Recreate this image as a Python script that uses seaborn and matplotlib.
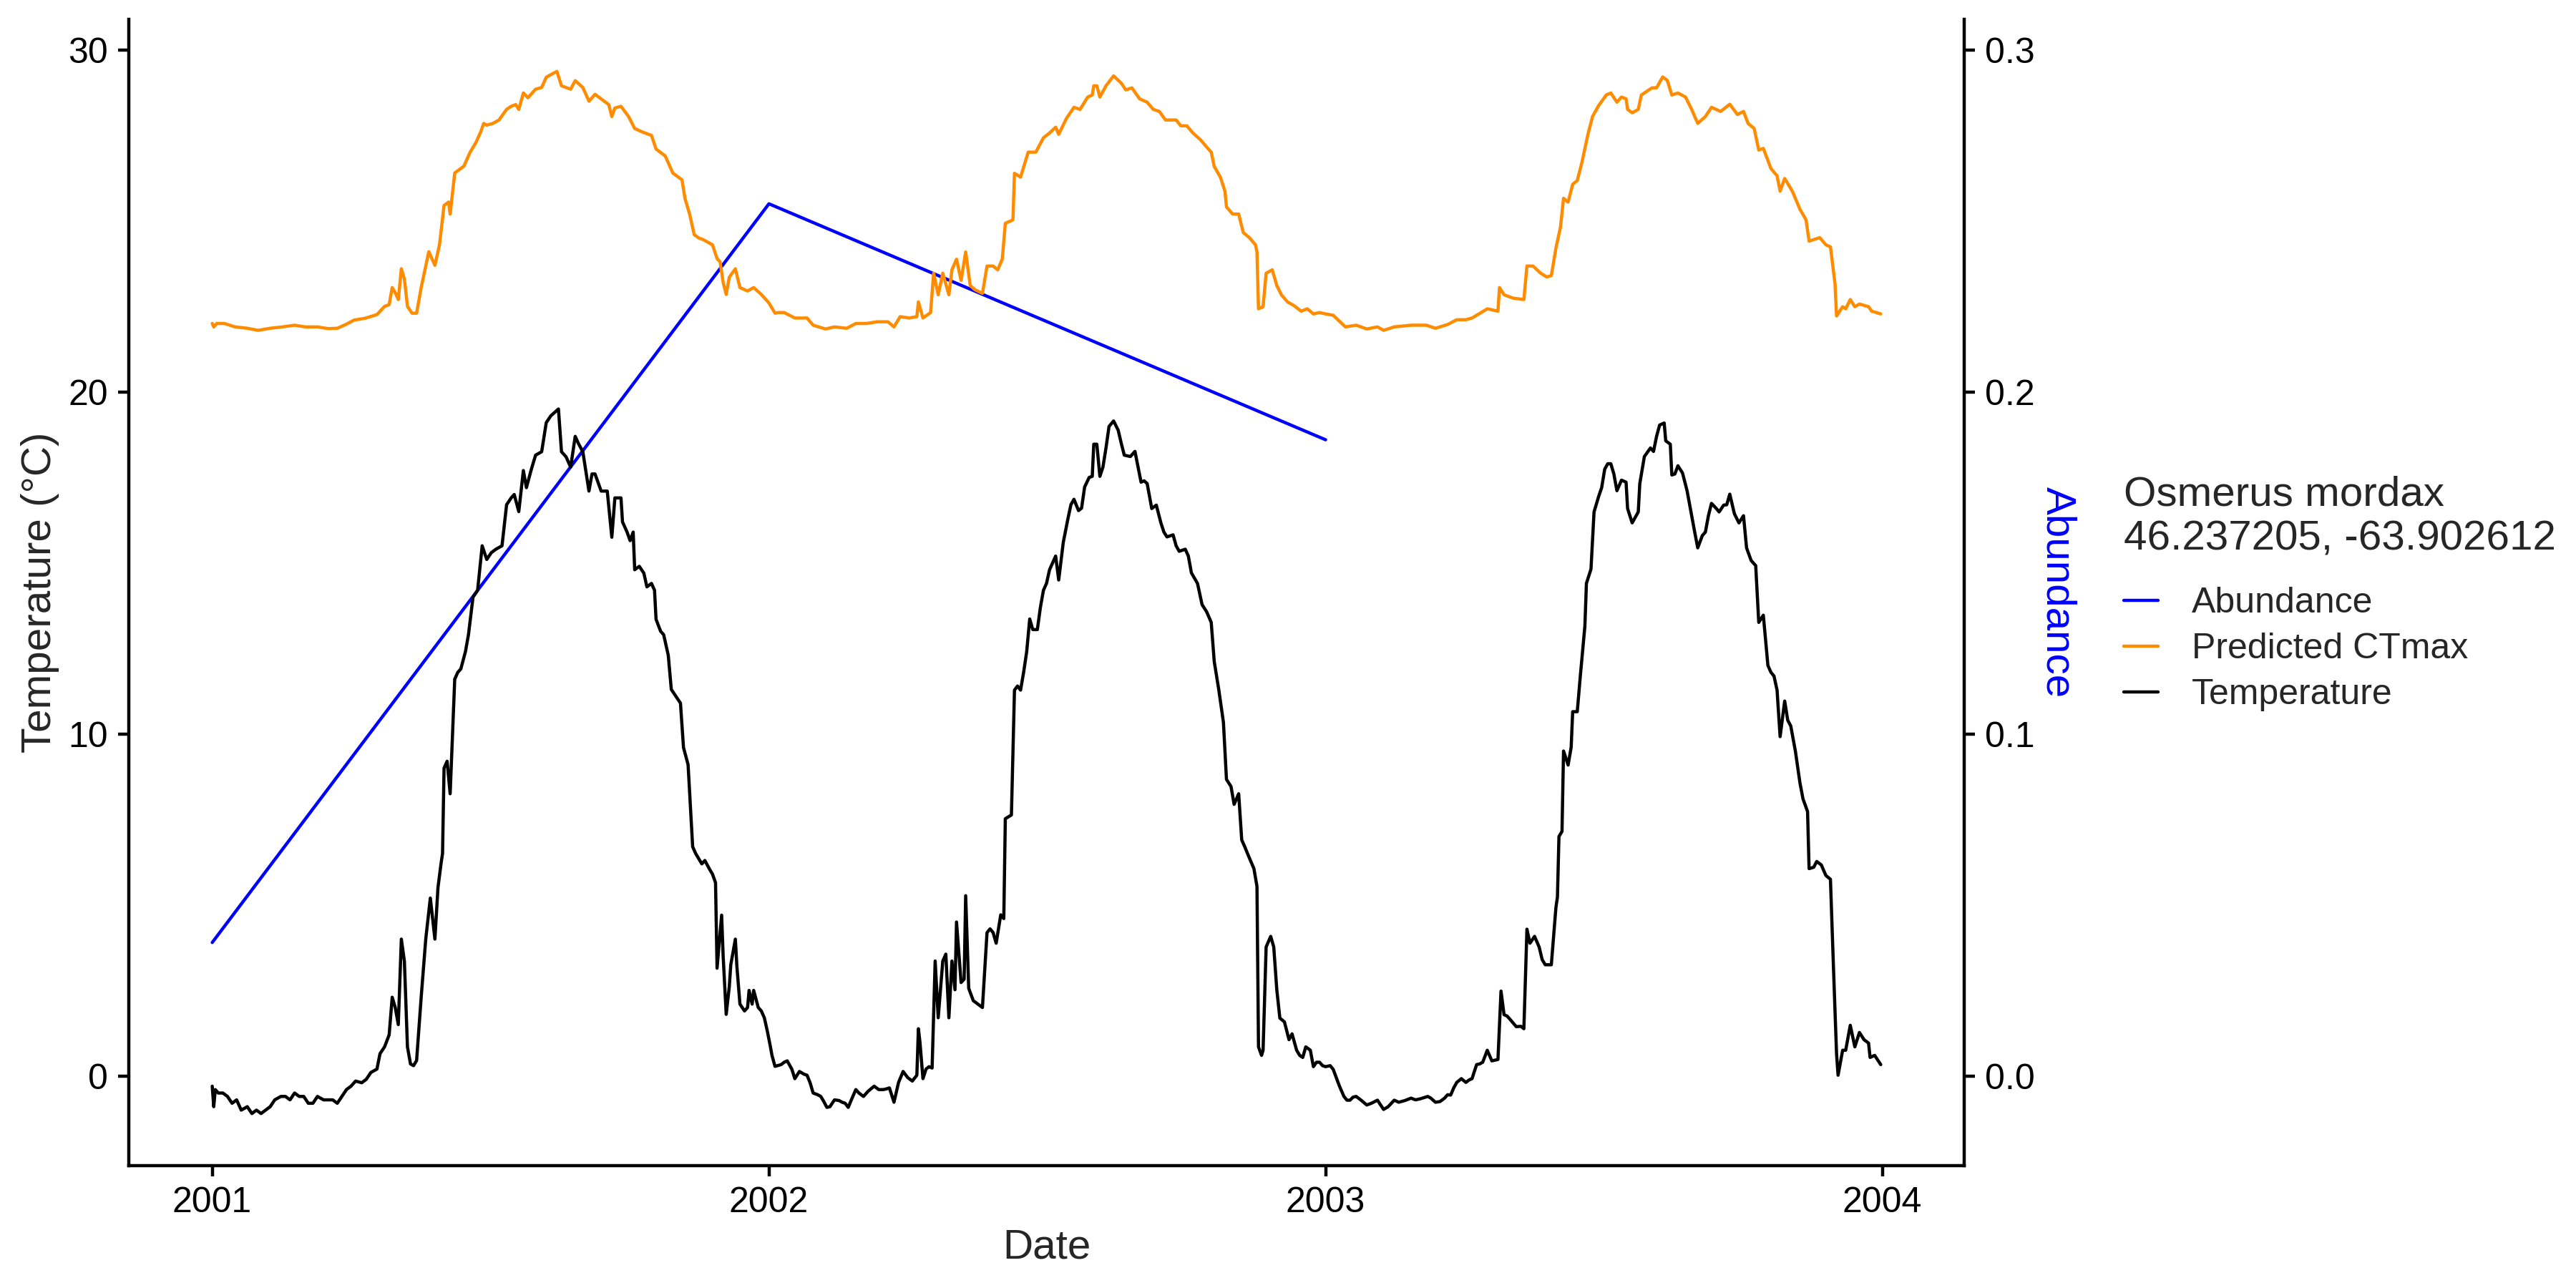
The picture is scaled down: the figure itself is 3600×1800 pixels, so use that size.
import matplotlib.pyplot as plt
import matplotlib.dates as mdates
from matplotlib.lines import Line2D
from matplotlib.ticker import FormatStrFormatter
import pandas as pd
import seaborn as sns

start = pd.Timestamp("2001-01-01")

# daily series (days since 2001-01-01)
temp_days = [
    0, 1, 2, 4, 7, 10, 13, 16, 19, 23, 26, 29, 32, 35, 38, 41, 45, 48, 51, 54,
    57, 60, 63, 66, 69, 73, 76, 79, 82, 85, 88, 91, 94, 98, 101, 104, 108, 110,
    113, 116, 118, 120, 122, 124, 126, 128, 130, 132, 134, 137, 140, 143, 146,
    148, 150, 151, 152, 154, 156, 159, 161, 163, 166, 168, 171, 174, 177, 180,
    183, 186, 190, 193, 196, 198, 201, 204, 206, 209, 212, 216, 219, 222, 227,
    229, 232, 235, 238, 240, 243, 247, 249, 251, 255, 259, 262, 264, 268, 269,
    272, 274, 276, 277, 280, 283, 285, 288, 290, 291, 294, 296, 299, 301, 304,
    307, 309, 312, 315, 317, 321, 323, 326, 328, 330, 331, 334, 335, 337, 339,
    340, 343, 344, 346, 349, 351, 352, 354, 355, 358, 360, 362, 364, 366, 367,
    369, 373, 375, 377, 380, 382, 385, 388, 390, 392, 394, 397, 399, 401, 403,
    405, 408, 411, 413, 415, 417, 420, 422, 424, 427, 430, 434, 437, 440, 442,
    444, 447, 450, 453, 456, 459, 462, 463, 464, 466, 468, 470, 472, 474, 476,
    479, 481, 483, 485, 487, 488, 491, 493, 494, 496, 499, 502, 505, 508, 510,
    512, 514, 517, 519, 520, 524, 526, 528, 530, 532, 534, 536, 538, 541, 543,
    545, 547, 549, 551, 553, 555, 558, 561, 563, 565, 568, 570, 572, 575, 577,
    578, 580, 582, 584, 586, 588, 591, 594, 596, 598, 602, 605, 609, 611, 613,
    616, 619, 622, 624, 626, 630, 632, 634, 638, 640, 642, 646, 649, 652, 655,
    657, 660, 663, 665, 668, 670, 673, 675, 677, 679, 683, 685, 686, 688, 689,
    691, 694, 696, 698, 700, 703, 706, 708, 711, 713, 715, 717, 720, 722, 724,
    726, 728, 730, 733, 735, 737, 739, 742, 744, 746, 748, 750, 753, 757, 760,
    764, 768, 771, 775, 778, 782, 786, 789, 792, 797, 799, 802, 805, 808, 810,
    812, 814, 816, 819, 822, 824, 826, 829, 831, 833, 836, 839, 843, 845, 847,
    849, 851, 855, 858, 860, 862, 864, 867, 870, 872, 874, 878, 881, 882, 883,
    885, 886, 889, 891, 892, 895, 897, 900, 901, 904, 906, 909, 911, 913, 915,
    917, 919, 921, 924, 927, 928, 931, 935, 936, 939, 943, 945, 947, 949, 952,
    953, 956, 957, 959, 961, 964, 967, 970, 972, 974, 977, 979, 981, 983, 986,
    988, 991, 993, 995, 998, 1001, 1004, 1006, 1009, 1012, 1014, 1017, 1020,
    1022, 1024, 1026, 1028, 1031, 1033, 1035, 1038, 1041, 1043, 1046, 1047,
    1050, 1052, 1055, 1058, 1061, 1063, 1065, 1066, 1069, 1071, 1074, 1077,
    1080, 1083, 1086, 1087, 1090, 1094,
]
temp_vals = [
    -0.3, -0.9, -0.4, -0.5, -0.5, -0.6, -0.8, -0.7, -1.0, -0.9, -1.1, -1.0,
    -1.1, -1.0, -0.9, -0.7, -0.6, -0.6, -0.7, -0.5, -0.6, -0.6, -0.8, -0.8,
    -0.6, -0.7, -0.7, -0.7, -0.8, -0.6, -0.4, -0.3, -0.15, -0.2, -0.1, 0.1,
    0.2, 0.65, 0.85, 1.2, 2.3, 2.0, 1.5, 4.0, 3.35, 0.85, 0.35, 0.3, 0.45, 2.3,
    4.0, 5.2, 4.0, 5.5, 6.2, 6.5, 9.0, 9.2, 8.25, 11.6, 11.8, 11.9, 12.4, 12.9,
    14.0, 14.2, 15.5, 15.1, 15.3, 15.4, 15.5, 16.7, 16.9, 17.0, 16.5, 17.7,
    17.2, 17.7, 18.15, 18.25, 19.1, 19.3, 19.5, 18.25, 18.1, 17.8, 18.7, 18.5,
    18.25, 17.1, 17.6, 17.6, 17.1, 17.1, 15.75, 16.9, 16.9, 16.2, 15.9, 15.65,
    15.9, 14.8, 14.9, 14.7, 14.3, 14.4, 14.2, 13.35, 13.0, 12.9, 12.3, 11.3,
    11.1, 10.9, 9.6, 9.1, 6.7, 6.5, 6.2, 6.3, 6.05, 5.9, 5.65, 3.15, 4.7, 3.5,
    1.8, 2.6, 3.25, 4.0, 3.2, 2.1, 1.9, 2.0, 2.5, 2.1, 2.5, 2.0, 1.9, 1.7, 1.3,
    0.85, 0.6, 0.28, 0.33, 0.4, 0.44, 0.2, -0.08, 0.13, 0.05, 0.02, -0.2, -0.5,
    -0.55, -0.6, -0.75, -0.92, -0.9, -0.7, -0.72, -0.77, -0.8, -0.92, -0.6,
    -0.4, -0.5, -0.6, -0.45, -0.3, -0.4, -0.4, -0.38, -0.35, -0.77, -0.19,
    0.13, -0.05, -0.15, 0.02, 1.38, 1.0, -0.08, 0.2, 0.27, 0.23, 3.36, 1.7,
    3.36, 3.56, 1.7, 3.36, 2.52, 4.5, 2.73, 2.83, 5.27, 2.56, 2.2, 2.1, 2.0,
    4.19, 4.3, 4.19, 3.88, 4.71, 4.6, 7.52, 7.63, 11.28, 11.4, 11.28, 11.8,
    12.4, 13.36, 13.05, 13.05, 13.7, 14.2, 14.4, 14.8, 15.0, 15.2, 14.5, 15.6,
    16.28, 16.7, 16.86, 16.53, 16.6, 17.22, 17.5, 17.53, 18.47, 18.47, 17.53,
    17.8, 18.36, 18.99, 19.15, 18.88, 18.5, 18.15, 18.11, 18.26, 17.36, 17.4,
    17.32, 16.59, 16.69, 16.17, 15.9, 15.76, 15.82, 15.5, 15.34, 15.4, 15.2,
    14.71, 14.4, 13.78, 13.57, 13.26, 12.11, 11.28, 10.34, 8.67, 8.46, 7.94,
    8.25, 6.9, 6.7, 6.48, 6.06, 5.54, 0.85, 0.6, 0.75, 3.77, 4.08, 3.77, 2.52,
    1.69, 1.58, 1.06, 1.23, 0.75, 0.6, 0.54, 0.85, 0.75, 0.27, 0.4, 0.4, 0.3,
    0.27, 0.3, 0.19, -0.05, -0.29, -0.6, -0.71, -0.71, -0.62, -0.6, -0.7,
    -0.85, -0.8, -0.71, -0.98, -0.9, -0.71, -0.77, -0.72, -0.65, -0.7, -0.67,
    -0.6, -0.65, -0.77, -0.75, -0.65, -0.55, -0.56, -0.35, -0.19, -0.08,
    -0.19, -0.12, -0.08, 0.33, 0.35, 0.4, 0.75, 0.44, 0.48, 2.48, 1.79, 1.75,
    1.65, 1.44, 1.45, 1.38, 4.29, 3.88, 4.08, 3.77, 3.4, 3.25, 3.25, 4.92,
    5.23, 7.0, 7.15, 9.5, 9.09, 9.61, 10.65, 10.65, 11.69, 13.15, 14.4, 14.82,
    16.49, 16.94, 17.2, 17.74, 17.9, 17.9, 17.6, 17.11, 17.42, 17.36, 16.59,
    16.17, 16.49, 17.32, 18.11, 18.36, 18.26, 18.7, 19.03, 19.09, 18.57,
    18.47, 17.57, 17.6, 17.84, 17.63, 17.11, 16.38, 15.9, 15.44, 15.8, 15.9,
    16.38, 16.74, 16.6, 16.49, 16.69, 16.7, 17.01, 16.44, 16.17, 16.38, 15.44,
    15.07, 14.92, 13.26, 13.47, 12.0, 11.8, 11.69, 11.28, 9.92, 10.96, 10.4,
    10.23, 9.5, 8.57, 8.1, 7.73, 6.06, 6.1, 6.27, 6.17, 5.86, 5.75, 3.15, 0.65,
    0.02, 0.75, 0.75, 1.48, 0.85, 1.27, 1.06, 0.96, 0.54, 0.6, 0.33,
]

ctmax_days = [
    0, 1, 3, 8, 15, 23, 30, 38, 46, 54, 61, 69, 76, 82, 88, 93, 100, 108, 113,
    116, 118, 120, 122, 124, 126, 128, 131, 134, 137, 142, 146, 149, 152, 155,
    156, 159, 162, 165, 169, 173, 176, 178, 180, 184, 188, 193, 196, 199, 201,
    204, 207, 212, 216, 219, 223, 226, 229, 232, 235, 238, 243, 247, 251, 254,
    257, 260, 262, 264, 268, 273, 277, 282, 288, 291, 294, 297, 302, 305, 308,
    310, 313, 316, 319, 322, 328, 331, 333, 335, 337, 339, 343, 346, 351, 355,
    360, 365, 369, 371, 375, 382, 390, 394, 402, 408, 416, 422, 429, 436, 443,
    447, 451, 457, 462, 463, 466, 471, 473, 476, 479, 483, 485, 488, 491, 494,
    497, 500, 505, 508, 512, 515, 518, 520, 525, 526, 530, 535, 540, 545, 549,
    553, 555, 560, 565, 569, 574, 577, 578, 580, 582, 586, 591, 596, 599, 603,
    608, 613, 617, 621, 625, 632, 635, 639, 643, 648, 652, 655, 657, 661, 664,
    665, 669, 673, 676, 680, 684, 685, 686, 689, 691, 695, 698, 701, 705, 709,
    714, 718, 722, 726, 730, 735, 743, 750, 757, 764, 768, 775, 786, 796, 802,
    810, 816, 822, 826, 832, 836, 843, 844, 847, 853, 860, 862, 866, 871, 875,
    878, 881, 884, 886, 889, 892, 895, 898, 902, 905, 909, 914, 917, 921, 924,
    927, 928, 931, 935, 937, 944, 947, 951, 954, 957, 961, 966, 970, 974, 979,
    983, 989, 995, 1000, 1004, 1007, 1011, 1014, 1017, 1022, 1026, 1028, 1031,
    1036, 1041, 1045, 1047, 1054, 1058, 1061, 1064, 1065, 1069, 1071, 1074,
    1077, 1080, 1086, 1088, 1094,
]
ctmax_vals = [
    22.0, 21.9, 22.0, 22.0, 21.9, 21.86, 21.8, 21.86, 21.9, 21.95, 21.9, 21.9,
    21.85, 21.86, 21.98, 22.1, 22.15, 22.26, 22.5, 22.55, 23.05, 22.9, 22.7,
    23.6, 23.3, 22.5, 22.3, 22.3, 23.05, 24.1, 23.7, 24.3, 25.45, 25.55, 25.2,
    26.4, 26.5, 26.6, 27.0, 27.3, 27.6, 27.85, 27.8, 27.85, 27.95, 28.26,
    28.35, 28.4, 28.26, 28.74, 28.6, 28.85, 28.9, 29.2, 29.3, 29.37, 28.95,
    28.9, 28.85, 29.1, 28.9, 28.5, 28.7, 28.6, 28.5, 28.4, 28.05, 28.3, 28.35,
    28.05, 27.7, 27.6, 27.5, 27.1, 27.0, 26.9, 26.4, 26.3, 26.2, 25.65, 25.2,
    24.6, 24.5, 24.45, 24.3, 23.9, 23.8, 23.2, 22.85, 23.35, 23.6, 23.05,
    22.95, 23.05, 22.85, 22.6, 22.3, 22.32, 22.32, 22.16, 22.16, 21.95, 21.84,
    21.9, 21.86, 22.0, 22.0, 22.05, 22.05, 21.9, 22.2, 22.16, 22.2, 22.63,
    22.16, 22.32, 23.47, 22.84, 23.47, 22.84, 23.57, 23.88, 23.26, 24.09,
    23.11, 22.99, 22.88, 23.68, 23.68, 23.57, 23.88, 24.93, 25.03, 26.39,
    26.28, 27.01, 27.01, 27.43, 27.57, 27.74, 27.53, 27.99, 28.32, 28.26,
    28.62, 28.68, 28.95, 28.95, 28.62, 28.95, 29.24, 29.03, 28.83, 28.89,
    28.57, 28.47, 28.26, 28.2, 27.95, 27.95, 27.78, 27.78, 27.57, 27.37,
    27.16, 27.01, 26.59, 26.28, 25.87, 25.41, 25.2, 25.2, 24.66, 24.51, 24.3,
    24.09, 22.43, 22.49, 23.47, 23.57, 23.11, 22.84, 22.63, 22.53, 22.36,
    22.43, 22.28, 22.32, 22.28, 22.24, 21.9, 21.95, 21.84, 21.9, 21.8, 21.9,
    21.95, 21.95, 21.86, 21.97, 22.11, 22.11, 22.16, 22.32, 22.43, 22.36,
    23.05, 22.84, 22.74, 22.7, 23.68, 23.68, 23.47, 23.36, 23.4, 24.2, 24.82,
    25.66, 25.55, 26.07, 26.18, 26.7, 27.53, 28.05, 28.37, 28.68, 28.74,
    28.47, 28.62, 28.57, 28.26, 28.16, 28.26, 28.68, 28.89, 28.89, 29.21,
    29.11, 28.68, 28.74, 28.62, 28.26, 27.85, 28.05, 28.32, 28.2, 28.41,
    28.11, 28.2, 27.85, 27.7, 27.07, 27.12, 26.53, 26.32, 25.87, 26.24, 25.87,
    25.34, 25.03, 24.41, 24.51, 24.3, 24.24, 23.16, 22.22, 22.49, 22.43, 22.7,
    22.49, 22.57, 22.49, 22.36, 22.28,
]

abund_dates = ["2001-01-01", "2002-01-01", "2003-01-01"]
abund_vals = [0.039, 0.255, 0.186]

series_names = ["Abundance", "Predicted CTmax", "Temperature"]
series_colors = {"Abundance": "blue", "Predicted CTmax": "darkorange", "Temperature": "black"}
legend_title = "Osmerus mordax\n46.237205, -63.902612"

sns.set_theme(style="ticks")
plt.rcParams["font.family"] = ["Liberation Sans", "DejaVu Sans"]

temp_df = pd.DataFrame({
    "date": start + pd.to_timedelta(temp_days, unit="D"),
    "value": temp_vals,
    "series": "Temperature",
})
ctmax_df = pd.DataFrame({
    "date": start + pd.to_timedelta(ctmax_days, unit="D"),
    "value": ctmax_vals,
    "series": "Predicted CTmax",
})
lines_df = pd.concat([ctmax_df, temp_df], ignore_index=True)
abund_df = pd.DataFrame({"date": pd.to_datetime(abund_dates), "value": abund_vals})

lw = 1.07
fig = plt.figure(figsize=(12, 6), dpi=300)
ax = fig.add_axes([0.05, 0.095, 0.7125, 0.89])
ax2 = ax.twinx()
ax.set_zorder(2)
ax2.set_zorder(1)
ax.patch.set_visible(False)

sns.lineplot(data=lines_df, x="date", y="value", hue="series",
             hue_order=["Predicted CTmax", "Temperature"], palette=series_colors,
             estimator=None, linewidth=lw, legend=False, ax=ax)
sns.lineplot(data=abund_df, x="date", y="value", color=series_colors["Abundance"],
             estimator=None, linewidth=lw, legend=False, ax=ax2)

# ggplot style 5% expansion; right axis = left / 100
all_vals = temp_vals + ctmax_vals + [v * 100 for v in abund_vals]
lo, hi = min(all_vals), max(all_vals)
pad = 0.05 * (hi - lo)
ax.set_ylim(lo - pad, hi + pad)
ax2.set_ylim((lo - pad) / 100, (hi + pad) / 100)

x0 = start
x1 = start + pd.Timedelta(days=max(temp_days))
xpad = (x1 - x0) * 0.05
ax.set_xlim(x0 - xpad, x1 + xpad)

ax.set_yticks([0, 10, 20, 30])
ax2.set_yticks([0.0, 0.1, 0.2, 0.3])
ax2.yaxis.set_major_formatter(FormatStrFormatter("%.1f"))
ax.xaxis.set_major_locator(mdates.YearLocator())
ax.xaxis.set_major_formatter(mdates.DateFormatter("%Y"))

for a in (ax, ax2):
    a.tick_params(direction="out", length=3.5, width=lw, labelsize=12,
                  pad=3.5, colors="black")
    for s in a.spines.values():
        s.set_linewidth(lw)
        s.set_color("black")
ax.spines["top"].set_visible(False)
ax.spines["right"].set_visible(False)
ax2.spines["top"].set_visible(False)
ax2.spines["left"].set_visible(False)
ax2.spines["bottom"].set_visible(False)

ax.set_xlabel("Date", fontsize=14, labelpad=3)
ax.set_ylabel("Temperature (°C)", fontsize=14, labelpad=3)
ax2.set_ylabel("Abundance", fontsize=14, color="blue", rotation=270,
               va="bottom", labelpad=1)

handles = [Line2D([], [], color=series_colors[n], linewidth=lw) for n in series_names]
leg = fig.legend(handles, series_names, title=legend_title, loc="upper left",
                 bbox_to_anchor=(0.8245, 0.631), frameon=False, fontsize=12,
                 title_fontsize=14, handlelength=0.95, handletextpad=0.95,
                 labelspacing=0.36, borderpad=0, borderaxespad=0, alignment="left")
leg.get_title().set_linespacing(1.2)
leg._legend_box.sep = 9.5

plt.savefig("out.png", dpi=300)
